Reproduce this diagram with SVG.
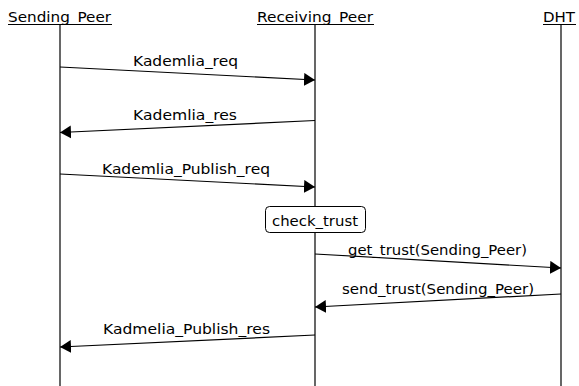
<svg xmlns="http://www.w3.org/2000/svg" width="579" height="386" viewBox="0 0 579 386">
<style>
text{font-family:"DejaVu Sans","Liberation Sans",sans-serif;font-size:14.5px;fill:#000;lengthAdjust:spacingAndGlyphs}
.life{stroke:#000;stroke-width:1.2}
.msg{stroke:#000;stroke-width:1.2;fill:none;marker-end:url(#ah)}
.ul{stroke:#000;stroke-width:1.2}
</style>
<defs>
<marker id="ah" markerWidth="12" markerHeight="14" refX="11" refY="6.5" orient="auto" markerUnits="userSpaceOnUse">
<path d="M0,0 L11,6.5 L0,13 Z" fill="#000"/>
</marker>
</defs>
<rect width="579" height="386" fill="#fff"/>
<g id="Sending_Peer">
<text x="8" y="22" textLength="103" lengthAdjust="spacingAndGlyphs">Sending_Peer</text>
<line class="ul" x1="8" y1="24.5" x2="112" y2="24.5"/>
<line class="life" x1="60" y1="25" x2="60" y2="386"/>
</g>
<g id="Receiving_Peer">
<text x="257" y="22" textLength="116" lengthAdjust="spacingAndGlyphs">Receiving_Peer</text>
<line class="ul" x1="257" y1="24.5" x2="374" y2="24.5"/>
<line class="life" x1="315" y1="25" x2="315" y2="386"/>
</g>
<g id="DHT">
<text x="543" y="22" textLength="32" lengthAdjust="spacingAndGlyphs">DHT</text>
<line class="ul" x1="543" y1="24.5" x2="576" y2="24.5"/>
<line class="life" x1="561" y1="25" x2="561" y2="386"/>
</g>
<g id="check_trust">
<rect x="265.5" y="206.5" width="100" height="26" rx="4" fill="#fff" stroke="#000" stroke-width="1"/>
<text x="272" y="225.5" textLength="86" lengthAdjust="spacingAndGlyphs">check_trust</text>
</g>
<g id="connectors">
<line class="msg" x1="60" y1="67" x2="315" y2="80"/>
<text x="133" y="65.5" textLength="105" lengthAdjust="spacingAndGlyphs">Kademlia_req</text>
<line class="msg" x1="315" y1="120.5" x2="60" y2="132.5"/>
<text x="133" y="120" textLength="104" lengthAdjust="spacingAndGlyphs">Kademlia_res</text>
<line class="msg" x1="60" y1="174" x2="315" y2="187"/>
<text x="102" y="173.5" textLength="168" lengthAdjust="spacingAndGlyphs">Kademlia_Publish_req</text>
<line class="msg" x1="315" y1="254" x2="561" y2="268"/>
<text x="348" y="254.5" textLength="179" lengthAdjust="spacingAndGlyphs">get_trust(Sending_Peer)</text>
<line class="msg" x1="561" y1="294" x2="315" y2="307"/>
<text x="342" y="294" textLength="192" lengthAdjust="spacingAndGlyphs">send_trust(Sending_Peer)</text>
<line class="msg" x1="315" y1="335" x2="60" y2="347"/>
<text x="103" y="334" textLength="167" lengthAdjust="spacingAndGlyphs">Kadmelia_Publish_res</text>
</g>
</svg>
